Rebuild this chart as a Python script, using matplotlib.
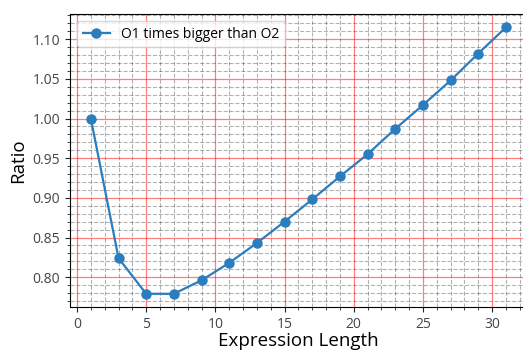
import matplotlib.pyplot as plt

plt.rcParams['font.family'] = ['Open Sans', 'DejaVu Sans']

lengths = [1, 3, 5, 7, 9, 11, 13, 15, 17, 19, 21, 23, 25, 27, 29, 31]
ratios = [1.000, 0.824, 0.779, 0.779, 0.796, 0.818, 0.843, 0.870,
          0.898, 0.927, 0.955, 0.987, 1.017, 1.048, 1.082, 1.115]

fig = plt.figure(figsize=(5.23, 3.51), dpi=100)
ax = fig.add_axes([0.134, 0.125, 0.873, 0.835])

ax.plot(lengths, ratios, marker='o', markersize=6.5, linewidth=1.6,
        color='#2a7dbf', label='O1 times bigger than O2')

ax.minorticks_on()
ax.grid(which='major', color='red', alpha=0.5, linewidth=0.9)
ax.grid(which='minor', color='black', linestyle='--', alpha=0.3, linewidth=0.8)

ax.tick_params(labelsize=10, colors='#333333')
ax.tick_params(which='both', labelcolor='#444444', color='#222222')
ax.set_xlabel('Expression Length', fontsize=13.5, labelpad=0)
ax.set_ylabel('Ratio', fontsize=13.5)
ax.legend(loc='upper left', fontsize=10)

fig.savefig('out.png', dpi=100)
